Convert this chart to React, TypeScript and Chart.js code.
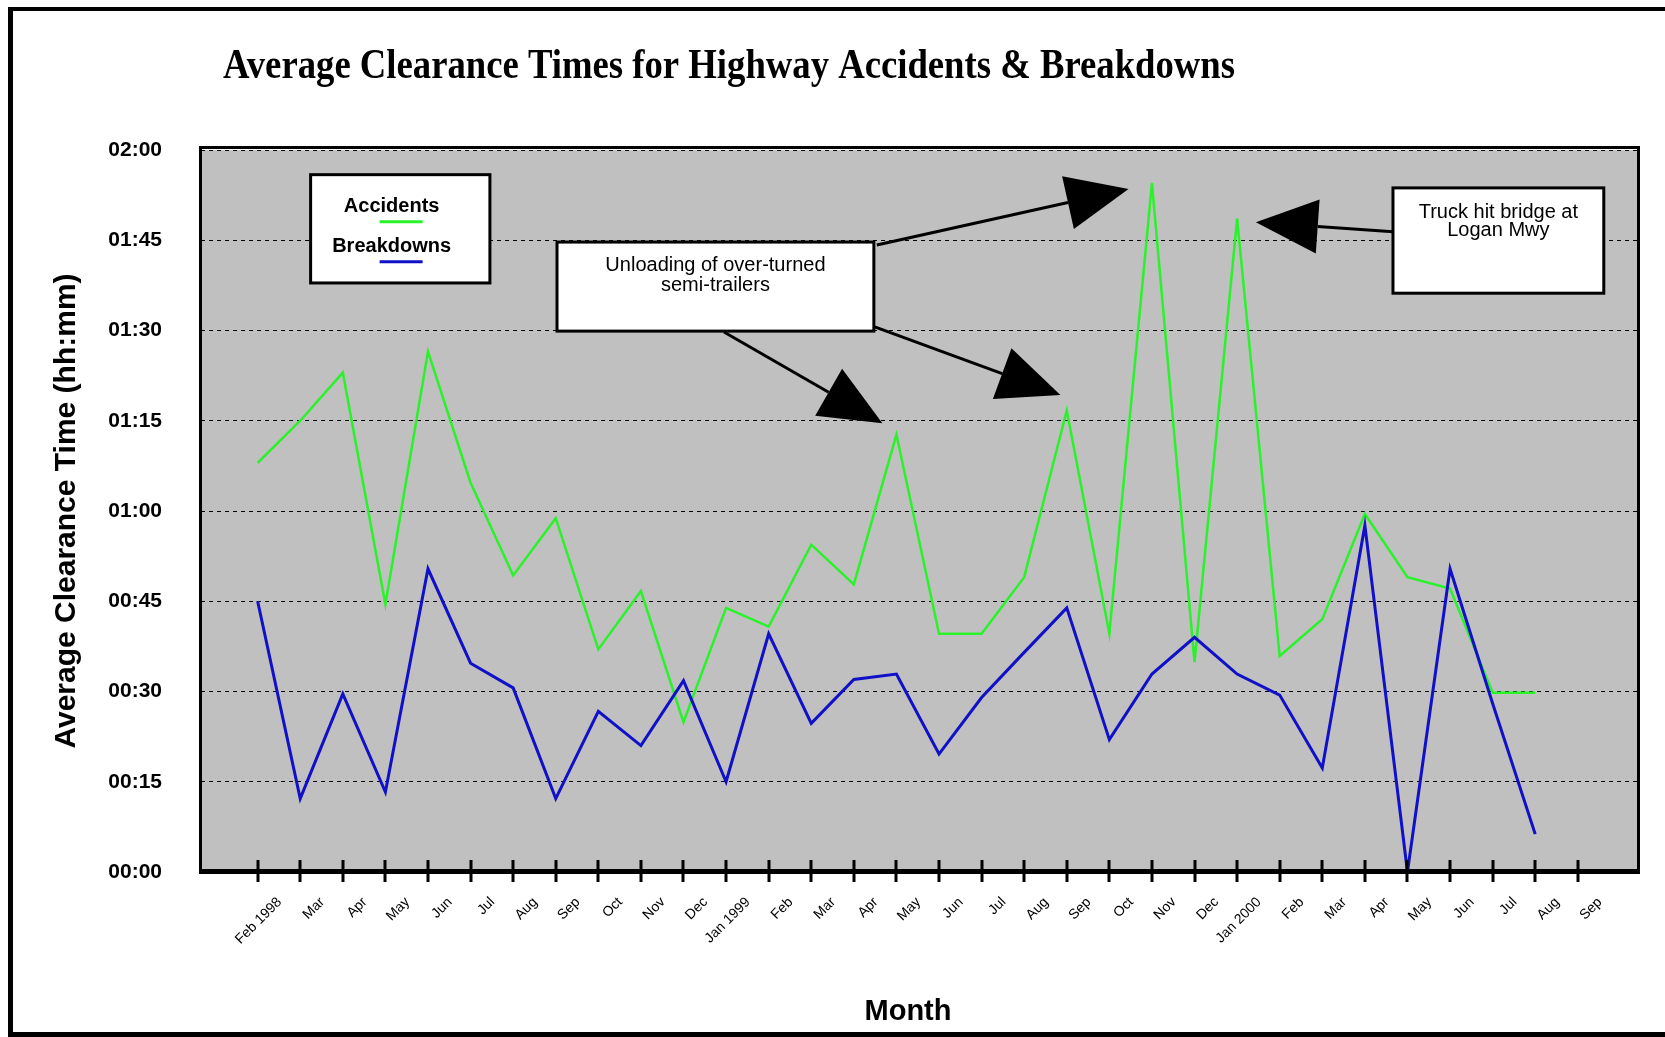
import React, { useEffect, useRef } from 'react';
import { Chart, registerables } from 'chart.js';

Chart.register(...registerables);

const chartTitle = 'Average Clearance Times for Highway Accidents & Breakdowns';
const xAxisTitle = 'Month';
const yAxisTitle = 'Average Clearance Time (hh:mm)';

const months = [
  'Feb 1998', 'Mar', 'Apr', 'May', 'Jun', 'Jul', 'Aug', 'Sep', 'Oct', 'Nov', 'Dec',
  'Jan 1999', 'Feb', 'Mar', 'Apr', 'May', 'Jun', 'Jul', 'Aug', 'Sep', 'Oct', 'Nov', 'Dec',
  'Jan 2000', 'Feb', 'Mar', 'Apr', 'May', 'Jun', 'Jul', 'Aug', 'Sep',
];

// minutes
const accidents = [
  68, 75, 83, 44.5, 86.5, 64.7, 49.3, 58.8, 37, 46.7, 24.9,
  43.9, 40.8, 54.4, 47.8, 72.7, 39.6, 39.6, 49, 76.7, 39.6, 114.5, 34.9,
  108.6, 35.9, 42, 59.5, 49, 47.1, 29.8, 29.8, null,
];
const breakdowns = [
  45, 12.2, 29.6, 13.3, 50.4, 34.7, 30.6, 12.2, 26.7, 21, 31.8,
  15, 39.6, 24.7, 32, 32.9, 19.6, 29, 36.5, 43.9, 22, 32.9, 39,
  32.9, 29.4, 17.3, 57.6, 0, 50.4, 28, 6.3, null,
];

const yTickValues = [0, 15, 30, 45, 60, 75, 90, 105, 120];
const seriesNames = ['Accidents', 'Breakdowns'];
const seriesColors = ['#2af22a', '#1010c8'];

// callouts, in data units (x = month index, y = minutes)
const calloutBoxes = [
  { lines: ['Unloading of over-turned', 'semi-trailers'], x0: 7.03, x1: 14.47, y0: 104.7, y1: 89.9, first: 29, gap: 20 },
  { lines: ['Truck hit bridge at', 'Logan Mwy'], x0: 26.66, x1: 31.61, y0: 113.7, y1: 96.2, first: 30, gap: 18 },
];
const calloutArrows = [
  [14.54, 104.2, 20.45, 113.5],
  [10.95, 89.75, 14.67, 74.6],
  [14.49, 90.6, 18.85, 79.3],
  [26.66, 106.4, 23.44, 108.0],
];
const legendBox = { x0: 1.244, x1: 5.454, y0: 115.9, y1: 97.9 };

const SANS = '"Liberation Sans", Arial, sans-serif';
const SERIF = '"Liberation Serif", "Times New Roman", serif';

const fmt = (v: number) => {
  const h = Math.floor(v / 60);
  const m = Math.round(v % 60);
  return `${String(h).padStart(2, '0')}:${String(m).padStart(2, '0')}`;
};

function drawArrow(ctx: CanvasRenderingContext2D, x1: number, y1: number, x2: number, y2: number) {
  const len = 62, half = 27;
  const dx = x2 - x1, dy = y2 - y1;
  const d = Math.hypot(dx, dy);
  const ux = dx / d, uy = dy / d;
  const bx = x2 - ux * len, by = y2 - uy * len;
  ctx.beginPath();
  ctx.moveTo(x1, y1);
  ctx.lineTo(bx, by);
  ctx.lineWidth = 3;
  ctx.strokeStyle = '#000';
  ctx.stroke();
  ctx.beginPath();
  ctx.moveTo(x2, y2);
  ctx.lineTo(bx - uy * half, by + ux * half);
  ctx.lineTo(bx + uy * half, by - ux * half);
  ctx.closePath();
  ctx.fillStyle = '#000';
  ctx.fill();
}

function box(ctx: CanvasRenderingContext2D, l: number, t: number, r: number, b: number) {
  ctx.fillStyle = '#fff';
  ctx.fillRect(l, t, r - l, b - t);
  ctx.lineWidth = 3;
  ctx.strokeStyle = '#000';
  ctx.strokeRect(l, t, r - l, b - t);
}

const decor = {
  id: 'decor',
  beforeDraw(chart: any) {
    const { ctx, chartArea: ca, width, height } = chart;
    ctx.save();
    ctx.fillStyle = '#fff';
    ctx.fillRect(0, 0, width, height);
    ctx.fillStyle = '#c0c0c0';
    ctx.fillRect(ca.left, ca.top, ca.right - ca.left, ca.bottom - ca.top);
    ctx.restore();
  },
  afterDraw(chart: any) {
    const { ctx, chartArea: ca, width, height } = chart;
    const xs = chart.scales.x, ys = chart.scales.y;
    const px = (v: number) => xs.getPixelForValue(v);
    const py = (v: number) => ys.getPixelForValue(v);
    ctx.save();

    // plot frame
    ctx.fillStyle = '#000';
    ctx.fillRect(ca.left - 2, ca.top - 4, ca.right - ca.left + 5, 3);
    ctx.fillRect(ca.left - 2, ca.top - 4, 3, ca.bottom - ca.top + 4);
    ctx.fillRect(ca.right, ca.top - 4, 3, ca.bottom - ca.top + 4);
    ctx.fillRect(ca.left - 2, ca.bottom - 3, ca.right - ca.left + 5, 5);
    // ticks crossing the axis
    months.forEach((_, i) => {
      const x = px(i);
      ctx.fillRect(Math.round(x) - 1.5, ca.bottom - 12, 3, 22);
    });

    // x axis title
    ctx.fillStyle = '#000';
    ctx.font = `bold 29px ${SANS}`;
    ctx.textAlign = 'center';
    ctx.textBaseline = 'middle';
    ctx.fillText(xAxisTitle, (ca.left + ca.right) / 2 - 11, 1012);

    // legend
    const ll = px(legendBox.x0), lr = px(legendBox.x1), lt = py(legendBox.y0), lb = py(legendBox.y1);
    box(ctx, ll, lt, lr, lb);
    ctx.fillStyle = '#000';
    ctx.font = `bold 20px ${SANS}`;
    ctx.textAlign = 'center';
    ctx.textBaseline = 'alphabetic';
    seriesNames.forEach((name, i) => {
      const base = lt + 37 + i * 40;
      ctx.fillStyle = '#000';
      ctx.fillText(name, ll + 81, base);
      ctx.strokeStyle = seriesColors[i];
      ctx.lineWidth = 3;
      ctx.beginPath();
      ctx.moveTo(ll + 69, base + 10);
      ctx.lineTo(ll + 112, base + 10);
      ctx.stroke();
    });

    // callouts
    calloutArrows.forEach(([a, b, c, d]) => drawArrow(ctx, px(a), py(b), px(c), py(d)));
    calloutBoxes.forEach((bx) => {
      const l = px(bx.x0), r = px(bx.x1), t = py(bx.y0), b = py(bx.y1);
      box(ctx, l, t, r, b);
      ctx.fillStyle = '#000';
      ctx.font = `20px ${SANS}`;
      ctx.textAlign = 'center';
      ctx.textBaseline = 'alphabetic';
      bx.lines.forEach((line, i) => ctx.fillText(line, (l + r) / 2, t + bx.first + i * bx.gap));
    });

    // title (condensed serif)
    ctx.font = `bold 42px ${SERIF}`;
    ctx.textAlign = 'left';
    ctx.textBaseline = 'alphabetic';
    const w = ctx.measureText(chartTitle).width;
    ctx.translate(223, 78);
    ctx.scale(1012 / w, 1);
    ctx.fillStyle = '#000';
    ctx.fillText(chartTitle, 0, 0);
    ctx.setTransform(1, 0, 0, 1, 0, 0);

    // outer frame
    ctx.fillStyle = '#000';
    ctx.fillRect(8, 7, width - 8, 4);
    ctx.fillRect(8, 7, 5, height - 7);
    ctx.fillRect(8, height - 5, width - 8, 5);
    ctx.restore();
  },
};

export default function App() {
  const ref = useRef<HTMLCanvasElement | null>(null);

  useEffect(() => {
    if (!ref.current) return;
    const toPoints = (arr: (number | null)[]) =>
      arr.map((v, i) => ({ x: i, y: v })).filter((p) => p.y !== null);

    const chart = new Chart(ref.current, {
      type: 'line',
      data: {
        datasets: [
          {
            label: seriesNames[0],
            data: toPoints(accidents) as any,
            borderColor: seriesColors[0],
            borderWidth: 2.5,
            pointRadius: 0,
            tension: 0,
            order: 2,
          },
          {
            label: seriesNames[1],
            data: toPoints(breakdowns) as any,
            borderColor: seriesColors[1],
            borderWidth: 3,
            pointRadius: 0,
            tension: 0,
            order: 1,
          },
        ],
      },
      options: {
        animation: false,
        responsive: true,
        maintainAspectRatio: false,
        devicePixelRatio: 1,
        layout: { padding: { left: 0, top: 150, right: 28, bottom: 0 } },
        plugins: {
          legend: { display: false },
          title: { display: false },
          tooltip: { enabled: false },
        },
        scales: {
          x: {
            type: 'linear',
            min: -1.33,
            max: 32.39,
            afterBuildTicks: (s: any) => {
              s.ticks = months.map((_, i) => ({ value: i }));
            },
            afterFit: (s: any) => {
              s.height = 165;
            },
            grid: { display: false, drawTicks: false },
            border: { display: false },
            ticks: {
              autoSkip: false,
              minRotation: 45,
              maxRotation: 45,
              labelOffset: 22,
              padding: 22,
              color: '#000',
              font: { family: SANS, size: 14 },
              callback: (v: any) => months[v as number] ?? '',
            },
            title: { display: false },
          },
          y: {
            min: 0,
            max: 120,
            afterBuildTicks: (s: any) => {
              s.ticks = yTickValues.map((v) => ({ value: v }));
            },
            afterFit: (s: any) => {
              s.width = 201;
            },
            grid: { color: '#000', lineWidth: 1, drawTicks: false },
            border: { display: false, dash: [4, 4] },
            ticks: {
              padding: 39,
              color: '#000',
              font: { family: SANS, size: 21, weight: 'bold' },
              callback: (v: any) => fmt(v as number),
            },
            title: {
              display: true,
              text: yAxisTitle,
              color: '#000',
              font: { family: SANS, size: 30, weight: 'bold' },
              padding: { top: 49, bottom: 0 },
            },
          },
        },
      },
      plugins: [decor],
    });
    return () => chart.destroy();
  }, []);

  return (
    <div style={{ position: 'fixed', left: 0, top: 0, width: 1665, height: 1037, background: '#fff' }}>
      <canvas ref={ref} style={{ display: 'block' }} />
    </div>
  );
}
